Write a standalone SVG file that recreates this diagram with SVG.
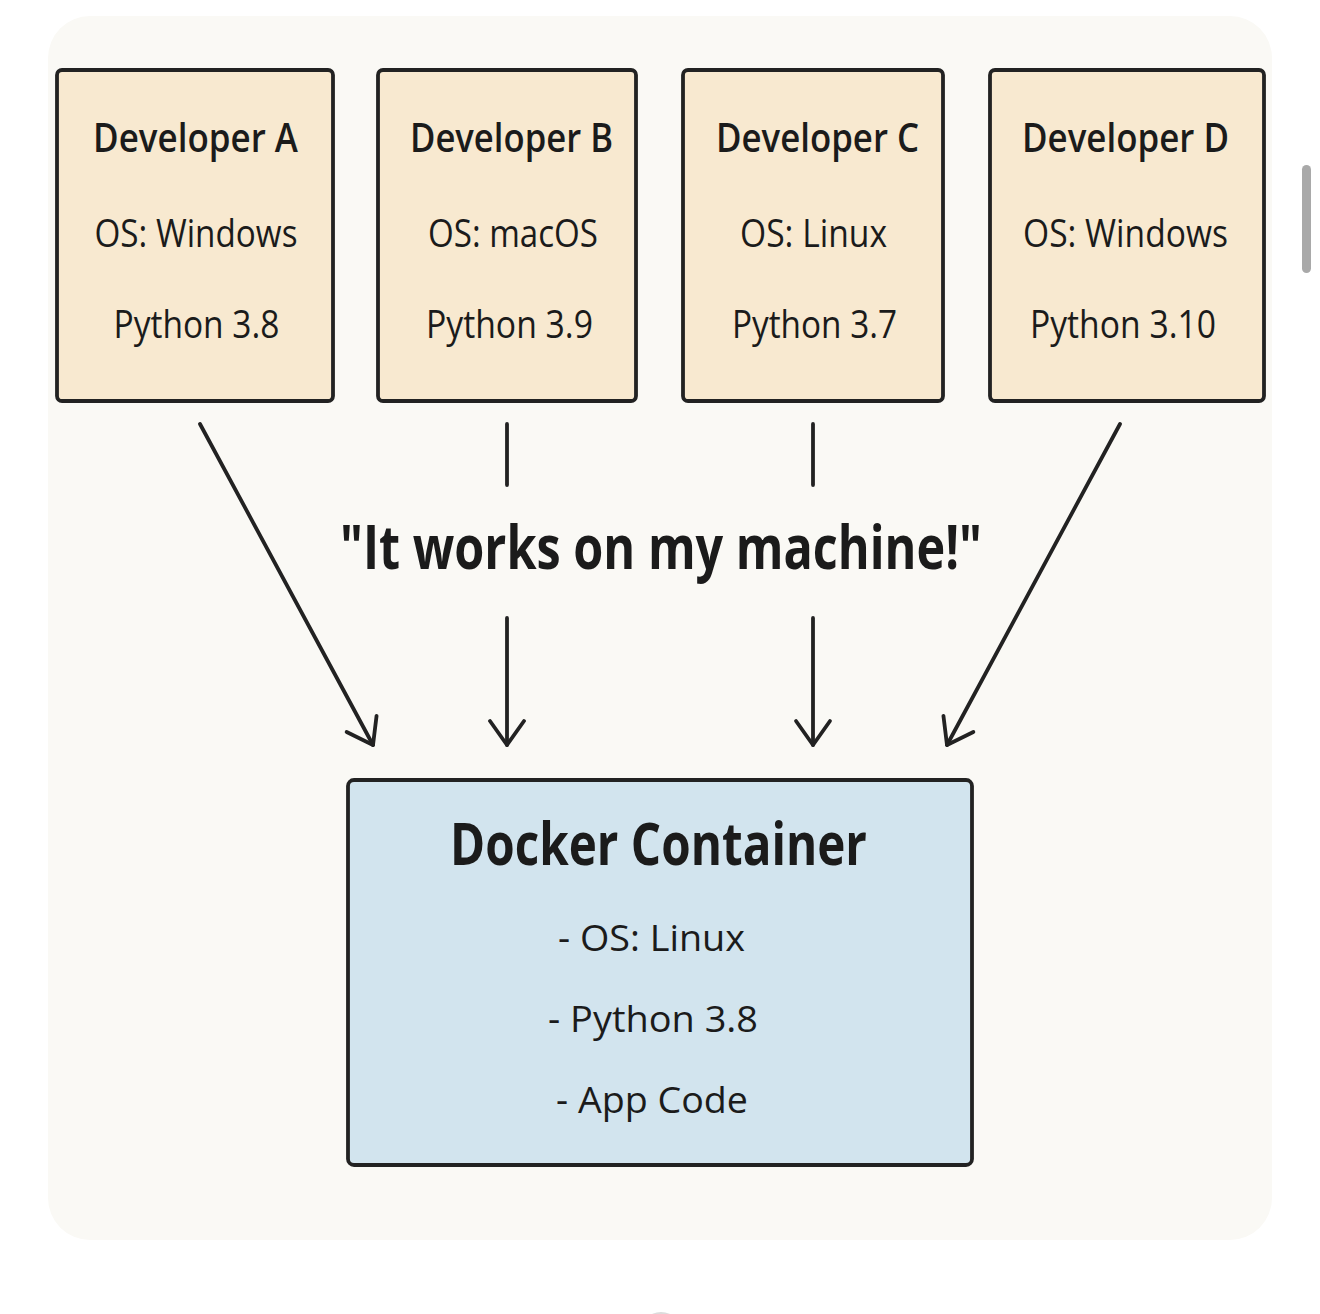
<svg xmlns="http://www.w3.org/2000/svg" width="1320" height="1314" viewBox="0 0 1320 1314">
  <style>
    text { font-family: "Open Sans", "Noto Sans", "Liberation Sans", sans-serif; fill: #1b1b1b; text-anchor: middle; }
    .dev { fill: #f8e9d0; stroke: #222; stroke-width: 3.8; }
    .docker { fill: #d2e4ee; stroke: #222; stroke-width: 3.8; }
    .title { font-size: 39px; font-weight: 600; }
    .info { font-size: 38px; font-weight: 400; }
    .quote { font-size: 60px; font-weight: 700; }
    .dtitle { font-size: 59px; font-weight: 700; }
    .ditem { font-size: 37px; font-weight: 400; }
    .conn { stroke: #222; stroke-width: 3.8; fill: none; stroke-linecap: round; }
  </style>
  <defs>
    <marker id="arrow" markerUnits="userSpaceOnUse" viewBox="-30 -22 36 44" refX="0" refY="0" markerWidth="36" markerHeight="44" orient="auto">
      <path d="M-24,-17 L0,0 L-24,17" fill="none" stroke="#222" stroke-width="3.8" stroke-linecap="round" stroke-linejoin="round"/>
    </marker>
  </defs>

  <rect x="0" y="0" width="1320" height="1314" fill="#ffffff"/>
  <rect id="panel" x="48" y="16" width="1224" height="1224" rx="42" fill="#faf9f5"/>
  <rect id="scrollbar" x="1302" y="165" width="9" height="108" rx="4.5" fill="#a9a9a9"/>
  <circle cx="661" cy="1334" r="22" fill="#dcdcdc"/>

  <g id="devA">
    <rect class="dev" x="57" y="70" width="276" height="331" rx="5"/>
    <text class="title" x="195.5" y="152" textLength="205" lengthAdjust="spacingAndGlyphs">Developer A</text>
    <text class="info" x="196" y="247" textLength="203" lengthAdjust="spacingAndGlyphs">OS: Windows</text>
    <text class="info" x="196.5" y="338" textLength="166" lengthAdjust="spacingAndGlyphs">Python 3.8</text>
  </g>
  <g id="devB">
    <rect class="dev" x="378" y="70" width="258" height="331" rx="5"/>
    <text class="title" x="511.5" y="152" textLength="203" lengthAdjust="spacingAndGlyphs">Developer B</text>
    <text class="info" x="513" y="247" textLength="170" lengthAdjust="spacingAndGlyphs">OS: macOS</text>
    <text class="info" x="509.5" y="338" textLength="167" lengthAdjust="spacingAndGlyphs">Python 3.9</text>
  </g>
  <g id="devC">
    <rect class="dev" x="683" y="70" width="260" height="331" rx="5"/>
    <text class="title" x="817.5" y="152" textLength="203" lengthAdjust="spacingAndGlyphs">Developer C</text>
    <text class="info" x="813.5" y="247" textLength="147" lengthAdjust="spacingAndGlyphs">OS: Linux</text>
    <text class="info" x="814.5" y="338" textLength="165" lengthAdjust="spacingAndGlyphs">Python 3.7</text>
  </g>
  <g id="devD">
    <rect class="dev" x="990" y="70" width="274" height="331" rx="5"/>
    <text class="title" x="1125.5" y="152" textLength="207" lengthAdjust="spacingAndGlyphs">Developer D</text>
    <text class="info" x="1125.5" y="247" textLength="205" lengthAdjust="spacingAndGlyphs">OS: Windows</text>
    <text class="info" x="1123" y="338" textLength="186" lengthAdjust="spacingAndGlyphs">Python 3.10</text>
  </g>

  <g id="connectors">
    <line class="conn" x1="200" y1="424" x2="373" y2="745" marker-end="url(#arrow)"/>
    <line class="conn" x1="507" y1="424" x2="507" y2="485"/>
    <line class="conn" x1="507" y1="618" x2="507" y2="745" marker-end="url(#arrow)"/>
    <line class="conn" x1="813" y1="424" x2="813" y2="485"/>
    <line class="conn" x1="813" y1="618" x2="813" y2="745" marker-end="url(#arrow)"/>
    <line class="conn" x1="1120" y1="424" x2="947" y2="745" marker-end="url(#arrow)"/>
  </g>

  <g id="quote">
    <text class="quote" x="661" y="569" textLength="642" lengthAdjust="spacingAndGlyphs">"It works on my machine!"</text>
  </g>

  <g id="docker">
    <rect class="docker" x="348" y="780" width="624" height="385" rx="6"/>
    <text class="dtitle" x="658.5" y="865" textLength="417" lengthAdjust="spacingAndGlyphs">Docker Container</text>
    <text class="ditem" x="651.5" y="951" textLength="187" lengthAdjust="spacingAndGlyphs">- OS: Linux</text>
    <text class="ditem" x="653" y="1032" textLength="210" lengthAdjust="spacingAndGlyphs">- Python 3.8</text>
    <text class="ditem" x="652" y="1113" textLength="192" lengthAdjust="spacingAndGlyphs">- App Code</text>
  </g>
</svg>
